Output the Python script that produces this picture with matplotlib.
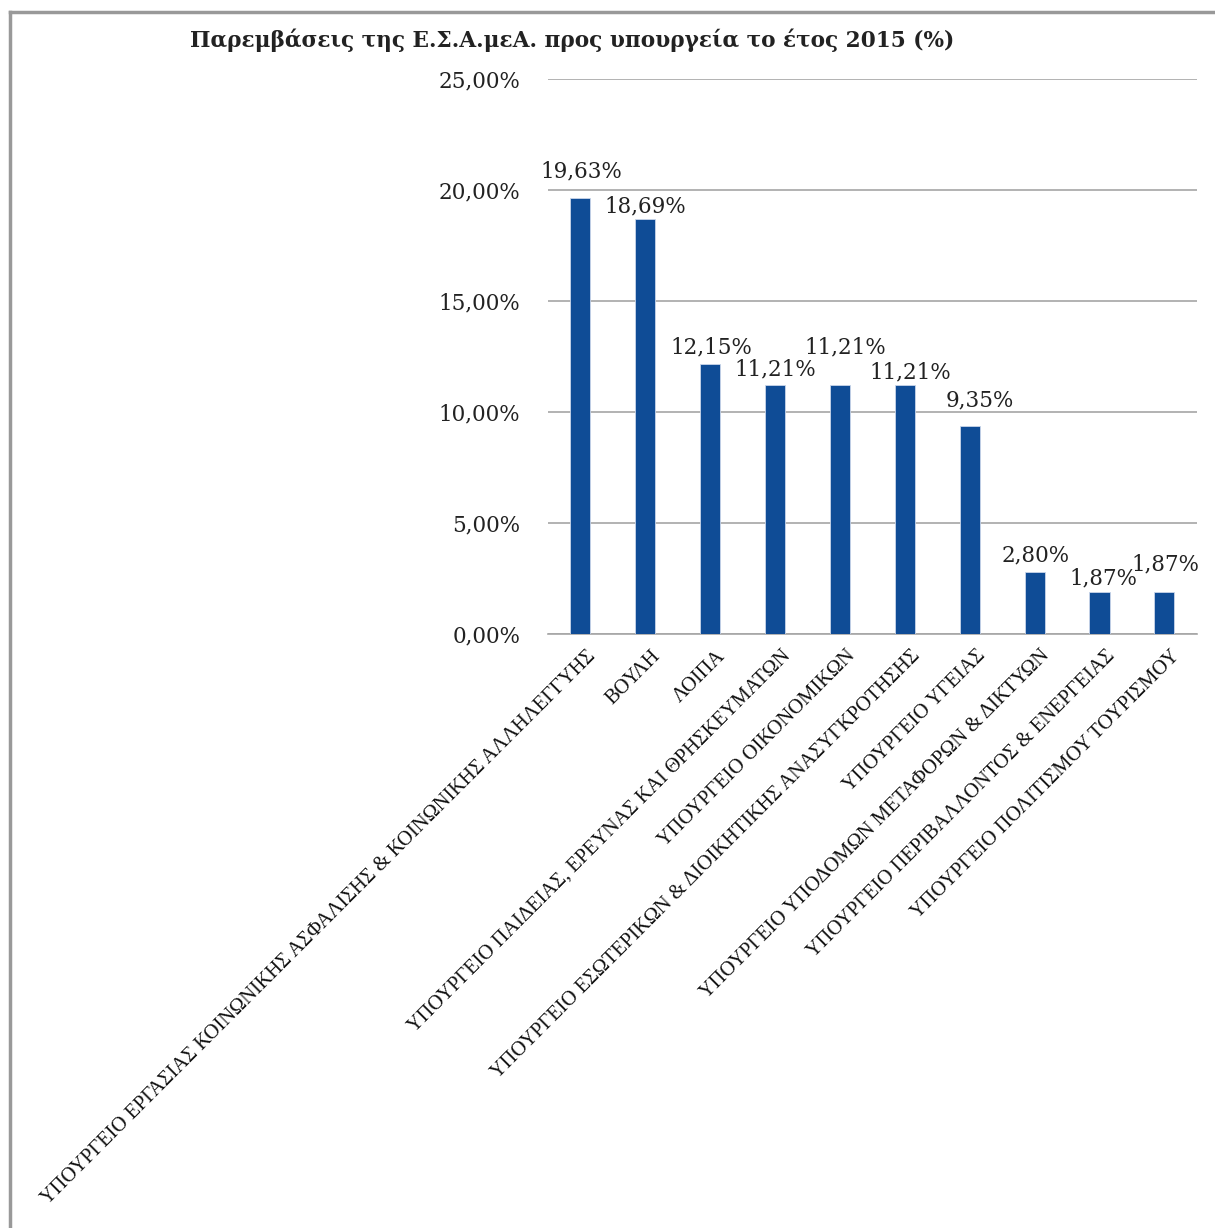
import matplotlib
matplotlib.use('Agg')
import matplotlib.pyplot as plt
import matplotlib.transforms as mtransforms
from matplotlib.lines import Line2D
from matplotlib.ticker import FuncFormatter

# Data
categories = [
    'ΥΠΟΥΡΓΕΙΟ ΕΡΓΑΣΙΑΣ ΚΟΙΝΩΝΙΚΗΣ ΑΣΦΑΛΙΣΗΣ & ΚΟΙΝΩΝΙΚΗΣ ΑΛΛΗΛΕΓΓΥΗΣ',
    'ΒΟΥΛΗ',
    'ΛΟΙΠΑ',
    'ΥΠΟΥΡΓΕΙΟ ΠΑΙΔΕΙΑΣ, ΕΡΕΥΝΑΣ ΚΑΙ ΘΡΗΣΚΕΥΜΑΤΩΝ',
    'ΥΠΟΥΡΓΕΙΟ ΟΙΚΟΝΟΜΙΚΩΝ',
    'ΥΠΟΥΡΓΕΙΟ ΕΣΩΤΕΡΙΚΩΝ & ΔΙΟΙΚΗΤΙΚΗΣ ΑΝΑΣΥΓΚΡΟΤΗΣΗΣ',
    'ΥΠΟΥΡΓΕΙΟ ΥΓΕΙΑΣ',
    'ΥΠΟΥΡΓΕΙΟ ΥΠΟΔΟΜΩΝ ΜΕΤΑΦΟΡΩΝ & ΔΙΚΤΥΩΝ',
    'ΥΠΟΥΡΓΕΙΟ ΠΕΡΙΒΑΛΛΟΝΤΟΣ & ΕΝΕΡΓΕΙΑΣ',
    'ΥΠΟΥΡΓΕΙΟ ΠΟΛΙΤΙΣΜΟΥ ΤΟΥΡΙΣΜΟΥ',
]
values = [19.63, 18.69, 12.15, 11.21, 11.21, 11.21, 9.35, 2.80, 1.87, 1.87]
yticks = [0, 5, 10, 15, 20, 25]
title = 'Παρεμβάσεις της Ε.Σ.Α.μεΑ. προς υπουργεία το έτος 2015 (%)'

# label offsets (points) mimicking Excel's placement
label_dx = [1, 0, 1, 0, 4, 4, 7, 1, 3, 1]
label_dy = [19, 9, 12, 11, 27, 9, 19, 12, 10, 20]

bar_color = '#0f4c96'
grid_color = '#a6a6a6'

fig = plt.figure(figsize=(12.15, 12.28), dpi=100)
ax = fig.add_axes([0.451, 0.4837, 0.534, 0.452])

x = list(range(len(categories)))
ax.bar(x, values, width=0.31, color=bar_color, edgecolor='#c9d6ea', linewidth=0.6, zorder=3)

ax.set_xlim(-0.5, len(categories) - 0.5)
ax.set_ylim(0, 25)
ax.set_yticks(yticks)
ax.yaxis.set_major_formatter(FuncFormatter(lambda v, p: f'{v:.2f}%'.replace('.', ',')))
ax.grid(axis='y', color=grid_color, linewidth=1.2, zorder=0)
for s in ['top', 'right', 'left']:
    ax.spines[s].set_visible(False)
ax.spines['bottom'].set_color(grid_color)
ax.spines['bottom'].set_linewidth(1.2)
ax.tick_params(axis='y', length=0, pad=20, labelsize=15.5, labelcolor='#222222')
ax.tick_params(axis='x', length=0, pad=9)
for lbl in ax.get_yticklabels():
    lbl.set_fontfamily('DejaVu Serif')

ax.set_xticks(x)
ax.set_xticklabels(categories, rotation=45, ha='right', va='top', rotation_mode='anchor',
                   fontfamily='Liberation Serif', fontsize=14.8, color='#111111')
shift = mtransforms.ScaledTranslation(6 / 100, 0, fig.dpi_scale_trans)
for lbl in ax.get_xticklabels():
    lbl.set_transform(lbl.get_transform() + shift)

for i, v in enumerate(values):
    ax.annotate(f'{v:.2f}%'.replace('.', ','), (i, v), xytext=(label_dx[i], label_dy[i]),
                textcoords='offset points', ha='center', va='center',
                fontfamily='DejaVu Serif', fontsize=15.5, color='#222222', zorder=4)

fig.text(0.471, 0.967, title, ha='center', va='center', fontfamily='DejaVu Serif',
         fontweight='bold', fontsize=15.6, color='#222222')

# gray frame on top and left
fig.add_artist(Line2D([10 / 1215, 1], [1 - 12 / 1228, 1 - 12 / 1228], color='#999999', linewidth=2.5))
fig.add_artist(Line2D([10 / 1215, 10 / 1215], [0, 1 - 12 / 1228], color='#999999', linewidth=2.5))

fig.savefig('out.png', dpi=100)
